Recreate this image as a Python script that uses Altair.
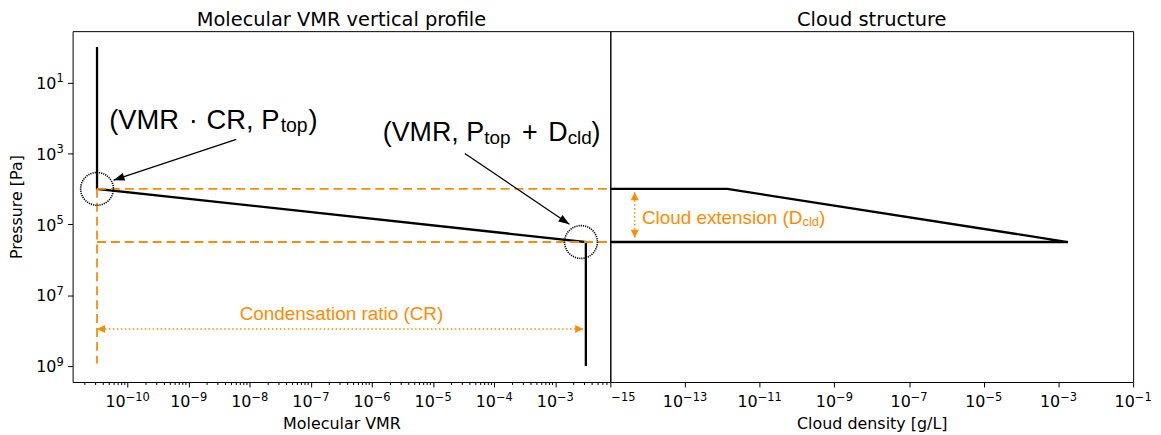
import math
import altair as alt
import pandas as pd

# ---------------- values ----------------
# molecular VMR profile (left panel)
profile_vmr = [3.16e-11, 3.16e-11, 3.16e-3, 3.16e-3]
profile_pressure = [1.0, 1e4, 3.16e5, 1e9]
# cloud density profile (right panel)
cloud_density = [1e-15, 1.35e-12, 1.8e-3, 1e-15]
cloud_pressure = [1e4, 1e4, 3.16e5, 3.16e5]

vmr_cr = 3.16e-11      # VMR * CR
vmr = 3.16e-3          # VMR
p_top = 1e4            # P_top
p_base = 3.16e5        # P_top + D_cld

# axis ticks (value, exponent label)
vmr_ticks = [1e-10, 1e-9, 1e-8, 1e-7, 1e-6, 1e-5, 1e-4, 1e-3]
vmr_tick_exp = ["−10", "−9", "−8", "−7", "−6", "−5", "−4", "−3"]
pressure_ticks = [1e1, 1e3, 1e5, 1e7, 1e9]
pressure_tick_exp = ["1", "3", "5", "7", "9"]
density_ticks = [1e-15, 1e-13, 1e-11, 1e-9, 1e-7, 1e-5, 1e-3, 1e-1]
density_tick_exp = ["−15", "−13", "−11", "−9", "−7", "−5", "−3", "−1"]
vmr_domain = [10 ** -10.9, 10 ** -2.1]
density_domain = [1e-15, 1e-1]
pressure_domain = [10 ** -0.45, 10 ** 9.45]
vmr_minor_ticks = [m * 10.0 ** k for k in range(-11, -2) for m in range(2, 10)
                   if vmr_domain[0] <= m * 10.0 ** k <= vmr_domain[1]]

# guide lines / arrows / annotation anchors (data coordinates)
dashed_vertical_end = 8.5e8
cr_arrow_x = [3.16e-11, 2.85e-3]
cr_arrow_y = 9e7
ext_arrow_x = 4.5e-15
ext_arrow_y = [1.25e4, 2.4e5]
pointer1 = [6e-9, 4e2, 5.9e-11, 5.7e3]      # x, y, x2, y2 (tip)
pointer2 = [3.3e-5, 1e3, 1.7e-3, 1.0e5]
circle_x = [3.16e-11, 2.63e-3]
circle_y = [1e4, 3.16e5]
ann1_anchor = [5e-11, 2e2]
ann2_anchor = [1.5e-6, 4.5e2]
cr_text_anchor = [10 ** -6.5, 5e7]
ext_text_anchor = [7e-15, 1e5]

# rich-text pieces: (text, dx, dy, fontSize)
ann1_pieces = [("(VMR", 0, 0, 27.5), ("·", 80, 0, 27.5), ("CR, P", 98, 0, 27.5),
               ("top", 172.5, 3, 19.5), (")", 200.5, 0, 27.5)]
ann2_pieces = [("(VMR, P", 0, 0, 27), ("top", 102, 3, 19), ("+", 140, 0, 27),
               ("D", 166.5, 0, 27), ("cld", 186, 3, 19), (")", 210, 0, 27)]
ext_pieces = [("Cloud extension (D", 0, 0, 19), ("cld", 161.6, 2, 13), (")", 178.2, 0, 19)]
cr_text = "Condensation ratio (CR)"

# ---------------- styling ----------------
W_L, W_R, H = 541, 526, 353
ORANGE = "#ff8c00"
ANN_FONT = "Liberation Sans"
AX_FONT = "DejaVu Sans"
TICK_FS, SUP_FS = 16, 11.5
TITLE_FS = 19.5
HEAD_BLACK = "M0,0L-0.36,1L0.36,1Z"
HEAD_ORANGE = "M0,0L-0.5,1L0.5,1Z"

sx_l = alt.Scale(type="log", domain=vmr_domain, nice=False)
sx_r = alt.Scale(type="log", domain=density_domain, nice=False)
sy = alt.Scale(type="log", domain=pressure_domain, nice=False, reverse=True)

ax_l = alt.Axis(values=vmr_ticks, labels=False, tickSize=5, titlePadding=28, minExtent=0)
ax_y = alt.Axis(values=pressure_ticks, labels=False, tickSize=5, titlePadding=43, minExtent=0)
ax_r = alt.Axis(values=density_ticks, labels=False, tickSize=5, titlePadding=28, minExtent=0)

PANEL = {
    "left": dict(xscale=sx_l, xaxis=ax_l, xtitle="Molecular VMR",
                 yaxis=ax_y, ytitle="Pressure [Pa]"),
    "right": dict(xscale=sx_r, xaxis=ax_r, xtitle="Cloud density [g/L]",
                  yaxis=None, ytitle=None),
}


def X(p):
    c = PANEL[p]
    return alt.X("x:Q", scale=c["xscale"], axis=c["xaxis"], title=c["xtitle"])


def Y(p):
    c = PANEL[p]
    if c["yaxis"] is None:
        return alt.Y("y:Q", scale=sy, axis=None)
    return alt.Y("y:Q", scale=sy, axis=c["yaxis"], title=c["ytitle"])


def text_w(s, fs):
    # approximate DejaVu Sans advance widths
    return sum(0.838 if ch == "−" else 0.636 for ch in s) * fs


W10 = text_w("10", TICK_FS)
BASE_Y, SUP_Y = H + 25, H + 19


def x_tick_labels(p, ticks, exps, hide_base=()):
    """'10' + superscript exponent, centred under each tick."""
    groups = {}
    for v, e in zip(ticks, exps):
        groups.setdefault(len(e), []).append((v, e))
    out = []
    for _, items in groups.items():
        shown = [(v, e) for v, e in items if v not in hide_base]
        if not shown:
            continue
        junction = (W10 - text_w(items[0][1], SUP_FS)) / 2
        df = pd.DataFrame(shown, columns=["x", "e"])
        out.append(alt.Chart(df).mark_text(
            text="10", align="right", baseline="alphabetic", dx=junction,
            fontSize=TICK_FS, font=AX_FONT, color="black").encode(
            x=X(p), y=alt.value(BASE_Y)))
        out.append(alt.Chart(df).mark_text(
            align="left", baseline="alphabetic", dx=junction,
            fontSize=SUP_FS, font=AX_FONT, color="black").encode(
            x=X(p), y=alt.value(SUP_Y), text="e:N"))
    hidden = [(v, e) for v, e in zip(ticks, exps) if v in hide_base]
    if hidden:
        out.append(alt.Chart(pd.DataFrame(hidden, columns=["x", "e"])).mark_text(
            align="left", baseline="alphabetic", dx=1,
            fontSize=SUP_FS, font=AX_FONT, color="black").encode(
            x=X(p), y=alt.value(SUP_Y), text="e:N"))
    return out


def y_tick_labels(p, ticks, exps):
    df = pd.DataFrame({"y": ticks, "e": exps})
    wexp = text_w(exps[0], SUP_FS)
    base = alt.Chart(df).mark_text(text="10", align="right", baseline="alphabetic",
                                   dx=-wexp, dy=6.3, fontSize=TICK_FS, font=AX_FONT,
                                   color="black").encode(x=alt.value(-9), y=Y(p))
    sup = alt.Chart(df).mark_text(align="right", baseline="alphabetic", dy=-0.3,
                                  fontSize=SUP_FS, font=AX_FONT, color="black").encode(
        x=alt.value(-9), y=Y(p), text="e:N")
    return [base, sup]


def screen_angle(x1, y1, x2, y2, xdom, width):
    kx = width / (math.log10(xdom[1]) - math.log10(xdom[0]))
    ky = H / (math.log10(pressure_domain[1]) - math.log10(pressure_domain[0]))
    dx = (math.log10(x2) - math.log10(x1)) * kx
    dy = (math.log10(y2) - math.log10(y1)) * ky
    return math.degrees(math.atan2(dx, -dy)) % 360


def segments(df, p, color, width, dash=None):
    kw = dict(color=color, strokeWidth=width)
    if dash:
        kw["strokeDash"] = dash
    return alt.Chart(df).mark_rule(**kw).encode(
        x=X(p), x2="x2:Q", y=Y(p), y2="y2:Q")


def heads(df, p, color, path, size):
    return alt.Chart(df).mark_point(shape=path, filled=True, color=color, size=size,
                                    opacity=1, strokeWidth=0).encode(
        x=X(p), y=Y(p), angle=alt.Angle("ang:Q", scale=None))


def rich(anchor, pieces, p, color):
    df = pd.DataFrame({"x": [anchor[0]], "y": [anchor[1]]})
    out = []
    for text, dx, dy, size in pieces:
        out.append(alt.Chart(df).mark_text(text=text, align="left", baseline="alphabetic",
                                           dx=dx, dy=dy, fontSize=size, font=ANN_FONT,
                                           color=color).encode(x=X(p), y=Y(p)))
    return out


def panel_title(text):
    return alt.TitleParams(text, anchor="middle", offset=1, fontSize=TITLE_FS,
                           font=AX_FONT, fontWeight="normal", color="black")


# ---------------- left panel ----------------
prof_df = pd.DataFrame({"x": profile_vmr, "y": profile_pressure, "i": range(4)})
profile = alt.Chart(prof_df).mark_line(color="black", strokeWidth=2.3).encode(
    x=X("left"), y=Y("left"), order="i:O")

dash_df = pd.DataFrame({
    "x": [vmr_cr, vmr_cr, vmr_cr],
    "x2": [vmr_domain[1], vmr_domain[1], vmr_cr],
    "y": [p_top, p_base, p_top],
    "y2": [p_top, p_base, dashed_vertical_end]})
dashed = segments(dash_df, "left", ORANGE, 1.8, [9, 5])

minor = alt.Chart(pd.DataFrame({"x": vmr_minor_ticks})).mark_rule(
    color="black", strokeWidth=1).encode(x=X("left"), y=alt.value(H), y2=alt.value(H + 3))

cr_df = pd.DataFrame({"x": [cr_arrow_x[0]], "x2": [cr_arrow_x[1]],
                      "y": [cr_arrow_y], "y2": [cr_arrow_y]})
cr_line = segments(cr_df, "left", ORANGE, 1.5, [1.5, 2.5])
cr_heads = heads(pd.DataFrame({"x": cr_arrow_x, "y": [cr_arrow_y] * 2, "ang": [270, 90]}),
                 "left", ORANGE, HEAD_ORANGE, 256)
cr_label = alt.Chart(pd.DataFrame({"x": [cr_text_anchor[0]], "y": [cr_text_anchor[1]]})).mark_text(
    text=cr_text, align="center", baseline="alphabetic", fontSize=19, font=ANN_FONT,
    color=ORANGE).encode(x=X("left"), y=Y("left"))

circles = alt.Chart(pd.DataFrame({"x": circle_x, "y": circle_y})).mark_point(
    shape="circle", filled=False, color="black", size=1089, opacity=1,
    strokeWidth=1.6, strokeDash=[1.2, 1.0]).encode(x=X("left"), y=Y("left"))

ptr_df = pd.DataFrame([pointer1, pointer2], columns=["x", "y", "x2", "y2"])
ptr_lines = segments(ptr_df, "left", "black", 1.3)
ptr_heads = heads(pd.DataFrame({
    "x": [pointer1[2], pointer2[2]], "y": [pointer1[3], pointer2[3]],
    "ang": [screen_angle(*pointer1, vmr_domain, W_L), screen_angle(*pointer2, vmr_domain, W_L)]}),
    "left", "black", HEAD_BLACK, 484)

left = alt.layer(
    profile, dashed, minor, cr_line, cr_heads, cr_label, circles, ptr_lines, ptr_heads,
    *rich(ann1_anchor, ann1_pieces, "left", "black"),
    *rich(ann2_anchor, ann2_pieces, "left", "black"),
    *x_tick_labels("left", vmr_ticks, vmr_tick_exp),
    *y_tick_labels("left", pressure_ticks, pressure_tick_exp),
).properties(width=W_L, height=H, title=panel_title("Molecular VMR vertical profile"))

# ---------------- right panel ----------------
cloud_df = pd.DataFrame({"x": cloud_density, "y": cloud_pressure, "i": range(4)})
cloud = alt.Chart(cloud_df).mark_line(color="black", strokeWidth=2.3).encode(
    x=X("right"), y=Y("right"), order="i:O")

ext_df = pd.DataFrame({"x": [ext_arrow_x], "x2": [ext_arrow_x],
                       "y": [ext_arrow_y[0]], "y2": [ext_arrow_y[1]]})
ext_line = segments(ext_df, "right", ORANGE, 1.5, [1.5, 2.5])
ext_heads = heads(pd.DataFrame({"x": [ext_arrow_x] * 2, "y": ext_arrow_y, "ang": [0, 180]}),
                  "right", ORANGE, HEAD_ORANGE, 256)

right = alt.layer(
    cloud, ext_line, ext_heads, *rich(ext_text_anchor, ext_pieces, "right", ORANGE),
    *x_tick_labels("right", density_ticks, density_tick_exp, hide_base=(1e-15,)),
).properties(width=W_R, height=H, title=panel_title("Cloud structure"))

chart = alt.hconcat(left, right, spacing=0, bounds="flush").properties(
    padding={"left": 0, "top": 0, "right": 0, "bottom": 0}
).configure_view(stroke="black", strokeWidth=1).configure_axis(
    titleFont=AX_FONT, titleFontSize=16, titleFontWeight="normal", titleColor="black",
    tickColor="black", tickWidth=1, grid=False, domain=False
)

chart.save("out.html", embed_options={"renderer": "svg", "actions": False})
